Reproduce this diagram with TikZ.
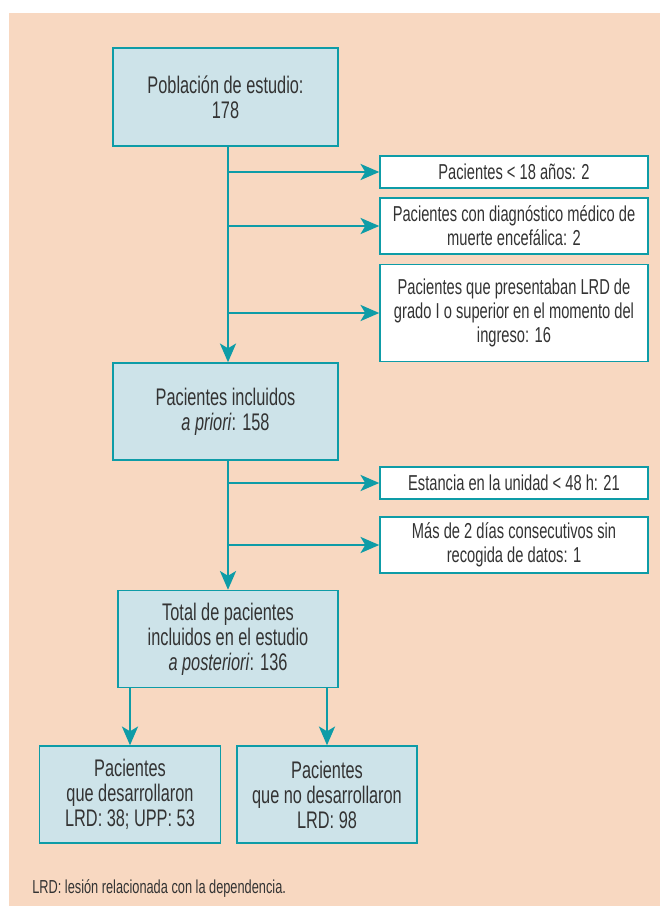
\documentclass[tikz,border=0pt]{standalone}
\usepackage{fontspec}
\setmainfont{Liberation Sans}[FakeStretch=0.68]
\usetikzlibrary{arrows.meta}
\definecolor{peach}{HTML}{F8D8C1}
\definecolor{boxfill}{HTML}{CDE3E9}
\definecolor{teal}{HTML}{0E9CA7}
\definecolor{txt}{HTML}{333333}
\tikzset{
  mainbox/.style={draw=teal, line width=1.1pt, fill=boxfill, inner sep=0pt, align=center, text=txt,
    font=\fontsize{18}{18.75}\selectfont},
  sidebox/.style={draw=teal, line width=1.1pt, fill=white, inner sep=0pt, align=center, text=txt,
    minimum width=201pt, font=\fontsize{16.2}{18}\selectfont},
  arr/.style={draw=teal, line width=2pt, -{Stealth[length=14pt, width=12pt, inset=3.5pt]}}
}
\begin{document}
\begin{tikzpicture}[x=0.75pt, y=-0.75pt]
\useasboundingbox (0,0) rectangle (660,906);
\fill[peach] (9,13) rectangle (660,906);
\coordinate (spine) at (228,0);
% main boxes
\node[mainbox, minimum width=168.75pt, minimum height=73.5pt] (b1) at (225.5,97) {Población de estudio:\\178};
\node[mainbox, minimum width=168.75pt, minimum height=72.75pt] (b2) at (225.5,411.5) {Pacientes incluidos\\\textit{a priori}: 158};
\node[mainbox, minimum width=165pt, minimum height=72.75pt] (b3) at (228,639) {Total de pacientes\\incluidos en el estudio\\\textit{a posteriori}: 136};
\node[mainbox, minimum width=135.75pt, minimum height=72.75pt] (bl) at (130,794.5) {Pacientes\\que desarrollaron\\LRD: 38; UPP: 53};
\node[mainbox, minimum width=135pt, minimum height=72.75pt] (br) at (327,794.5) {Pacientes\\que no desarrollaron\\LRD: 98};
% side boxes
\node[sidebox, minimum height=24pt] (sa) at (514,172) {Pacientes < 18 años: 2};
\node[sidebox, minimum height=42pt] (sb) at (514,226) {Pacientes con diagnóstico médico de\\muerte encefálica: 2};
\node[sidebox, minimum height=72.75pt] (sc) at (514,313) {Pacientes que presentaban LRD de\\grado I o superior en el momento del\\ingreso: 16};
\node[sidebox, minimum height=24pt] (sd) at (514,483) {Estancia en la unidad < 48 h: 21};
\node[sidebox, minimum height=42pt] (se) at (514,545) {Más de 2 días consecutivos sin\\recogida de datos: 1};
% connectors
\draw[arr] (b1.south -| spine) -- (b2.north -| spine);
\draw[arr] (sa.west -| spine) -- (sa.west);
\draw[arr] (sb.west -| spine) -- (sb.west);
\draw[arr] (sc.west -| spine) -- (sc.west);
\draw[arr] (b2.south -| spine) -- (b3.north -| spine);
\draw[arr] (sd.west -| spine) -- (sd.west);
\draw[arr] (se.west -| spine) -- (se.west);
\draw[arr] (b3.south -| bl.north) -- (bl.north);
\draw[arr] (b3.south -| br.north) -- (br.north);
% footnote
\node[anchor=base west, inner sep=0pt, text=txt, font=\fontsize{14.1}{15}\selectfont] (fn) at (32,893) {LRD: lesión relacionada con la dependencia.};
\end{tikzpicture}
\end{document}
